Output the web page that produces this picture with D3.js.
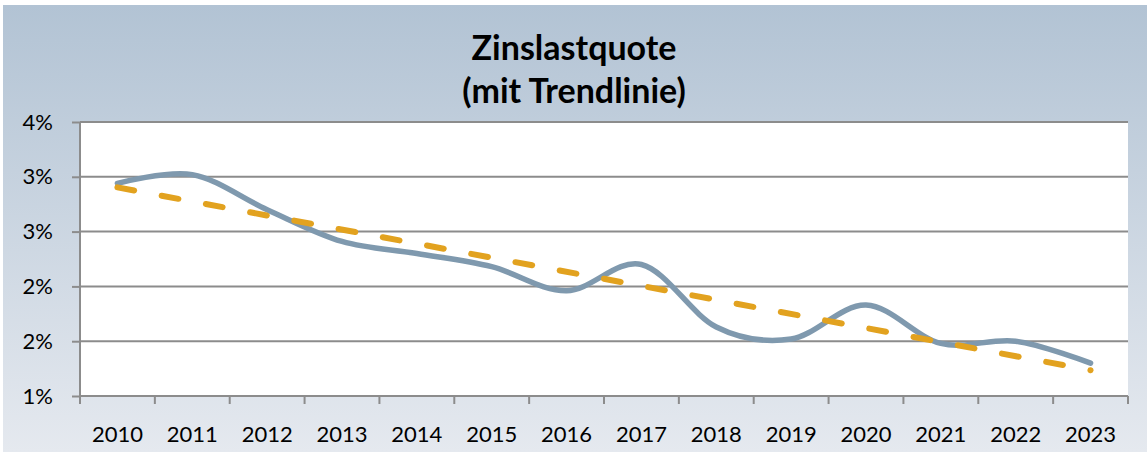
<!DOCTYPE html>
<html>
<head>
<meta charset="utf-8">
<script src="https://cdnjs.cloudflare.com/ajax/libs/d3/7.8.5/d3.min.js"></script>
<style>
  body { margin: 0; background: #fff; }
  svg { display: block; font-family: Lato, "Open Sans", sans-serif; }
</style>
</head>
<body>
<svg width="1147" height="452"></svg>
<script>
var years = ["2010", "2011", "2012", "2013", "2014", "2015", "2016",
  "2017", "2018", "2019", "2020", "2021", "2022", "2023"];
// Zinslastquote in %
var quote = [2.94, 3.02, 2.70, 2.41, 2.30, 2.18, 1.96,
  2.20, 1.63, 1.52, 1.83, 1.48, 1.50, 1.30];
var yTicks = [1.0, 1.5, 2.0, 2.5, 3.0, 3.5];
var titleLines = ["Zinslastquote", "(mit Trendlinie)"];

var svg = d3.select("svg"),
  width = +svg.attr("width"),
  height = +svg.attr("height");

var margin = {top: 122, right: 19, bottom: 56, left: 80};

// background gradient
var grad = svg.append("defs").append("linearGradient")
  .attr("id", "bg")
  .attr("x1", 0).attr("y1", 0).attr("x2", 0).attr("y2", 1);
grad.append("stop").attr("offset", "0%").attr("stop-color", "#b2c3d4");
grad.append("stop").attr("offset", "100%").attr("stop-color", "#e5e9ef");

svg.append("rect")
  .attr("x", 3).attr("y", 5)
  .attr("width", width - 3).attr("height", height - 5)
  .attr("fill", "url(#bg)");

var x = d3.scaleBand()
  .domain(years)
  .range([margin.left, width - margin.right]);

var y = d3.scaleLinear()
  .domain([1, 3.5])
  .range([height - margin.bottom, margin.top]);

// plot area
svg.append("rect")
  .attr("x", margin.left).attr("y", margin.top)
  .attr("width", width - margin.right - margin.left)
  .attr("height", height - margin.bottom - margin.top)
  .attr("fill", "#fff");

// gridlines
svg.append("g")
  .selectAll("line")
  .data(yTicks.slice(1))
  .enter().append("line")
  .attr("x1", margin.left).attr("x2", width - margin.right)
  .attr("y1", function(d) { return y(d); })
  .attr("y2", function(d) { return y(d); })
  .attr("stroke", "#8c8c8c")
  .attr("stroke-width", 2);

// y axis
var yAxis = svg.append("g")
  .attr("transform", "translate(" + margin.left + ",0)")
  .call(d3.axisLeft(y)
    .tickValues(yTicks)
    .tickSize(8)
    .tickPadding(19)
    .tickFormat(function(d) { return Math.round(d + 1e-9) + "%"; }));

// x axis, ticks on category boundaries
var xAxis = svg.append("g")
  .attr("transform", "translate(0," + y(1) + ")")
  .call(d3.axisBottom(x).tickSize(0).tickPadding(30));

xAxis.selectAll(".bound")
  .data(d3.range(years.length + 1))
  .enter().append("line")
  .attr("class", "bound")
  .attr("x1", function(i) { return margin.left + i * x.step(); })
  .attr("x2", function(i) { return margin.left + i * x.step(); })
  .attr("y1", 0).attr("y2", 8)
  .attr("stroke", "#8c8c8c")
  .attr("stroke-width", 2);

[yAxis, xAxis].forEach(function(ax) {
  ax.selectAll(".domain").attr("stroke", "#8c8c8c").attr("stroke-width", 2);
  ax.selectAll(".tick line").attr("stroke", "#8c8c8c").attr("stroke-width", 2);
  ax.selectAll("text")
    .attr("fill", "#000")
    .style("font-size", "22px")
    .style("font-family", "Lato, sans-serif");
});
yAxis.select(".domain").attr("d", "M0," + y(1) + "V" + y(3.5));
xAxis.select(".domain").attr("d", "M" + margin.left + ",0H" + (width - margin.right));

// linear trendline (least squares over the data)
var n = quote.length,
  mx = d3.mean(d3.range(n)),
  my = d3.mean(quote);
var slope = d3.sum(quote, function(v, i) { return (i - mx) * (v - my); }) /
  d3.sum(d3.range(n), function(i) { return (i - mx) * (i - mx); });
var trend = [my - slope * mx, my + slope * (n - 1 - mx)];

var cx = function(i) { return x(years[i]) + x.bandwidth() / 2; };

var line = d3.line()
  .x(function(d, i) { return cx(i); })
  .y(function(d) { return y(d); })
  .curve(d3.curveCardinal);

svg.append("path")
  .datum(quote)
  .attr("d", line)
  .attr("fill", "none")
  .attr("stroke", "#7f99ae")
  .attr("stroke-width", 5.5)
  .attr("stroke-linecap", "round");

svg.append("line")
  .attr("x1", cx(0)).attr("y1", y(trend[0]))
  .attr("x2", cx(n - 1)).attr("y2", y(trend[1]))
  .attr("stroke", "#e2a21f")
  .attr("stroke-width", 6)
  .attr("stroke-linecap", "round")
  .attr("stroke-dasharray", "17 28");

// title
svg.append("text")
  .attr("x", 574)
  .attr("text-anchor", "middle")
  .style("font-size", "34px")
  .style("font-weight", "bold")
  .selectAll("tspan")
  .data(titleLines)
  .enter().append("tspan")
  .attr("x", 574)
  .attr("y", function(d, i) { return 60 + i * 43; })
  .text(function(d) { return d; });
</script>
</body>
</html>
